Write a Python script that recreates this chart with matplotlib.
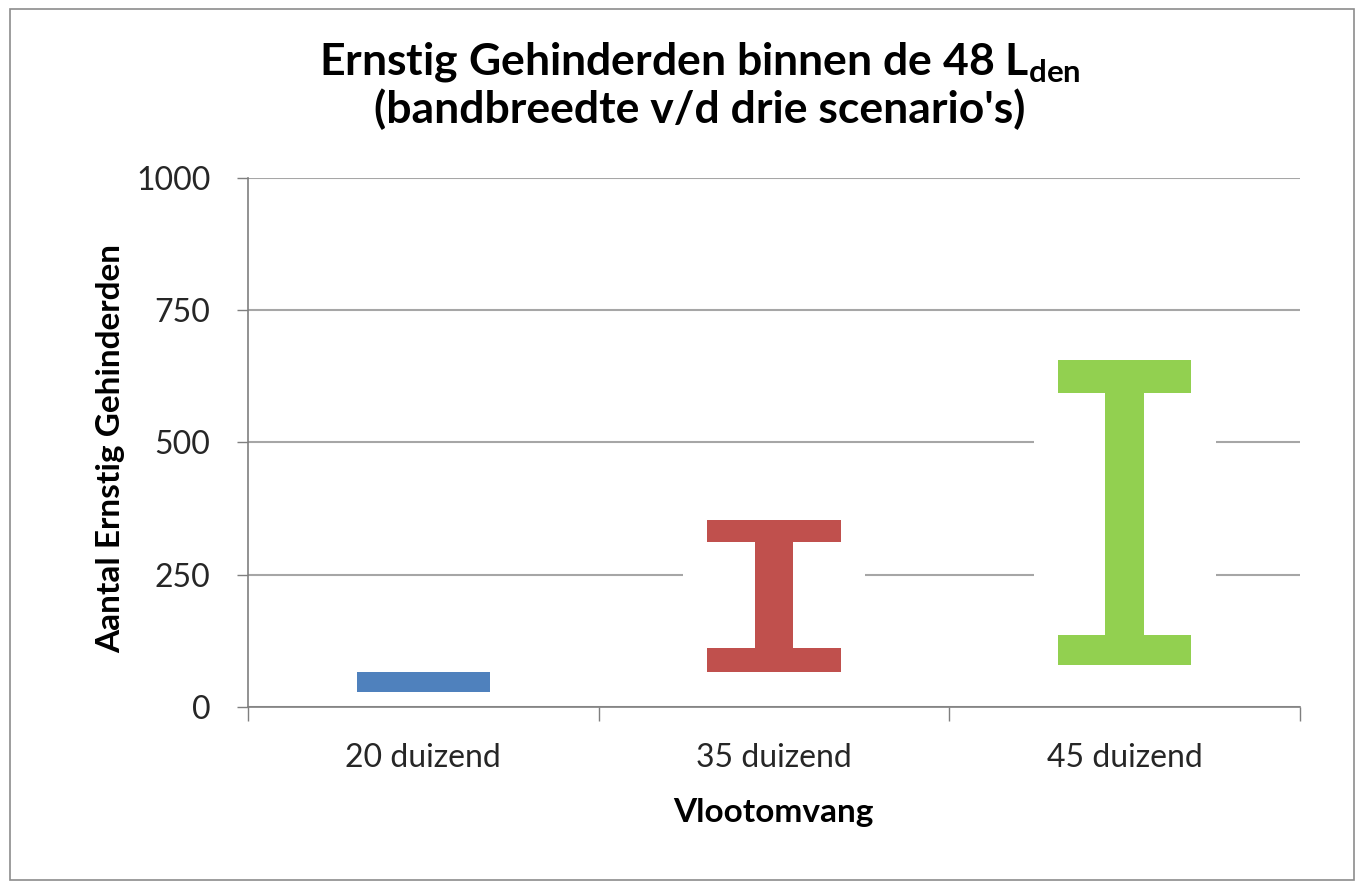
import matplotlib.pyplot as plt
from matplotlib.patches import Rectangle

plt.rcParams['font.family'] = ['Lato', 'DejaVu Sans']
plt.rcParams['mathtext.fontset'] = 'custom'
plt.rcParams['mathtext.bf'] = 'Lato:bold'
plt.rcParams['mathtext.rm'] = 'Lato'

# Vlootomvang en bandbreedte (onder- en bovenkant van de "I")
categorieen = ['20 duizend', '35 duizend', '45 duizend']
onder_laag = [28, 66, 79]      # onderkant onderste balk
onder_hoog = [66, 111, 136]    # bovenkant onderste balk
boven_laag = [66, 312, 594]    # onderkant bovenste balk
boven_hoog = [66, 353, 656]    # bovenkant bovenste balk
kleuren = ['#4F81BD', '#C0504D', '#92D050']

fig = plt.figure(figsize=(13.64, 8.89), dpi=100)
ax = fig.add_axes([0.1818, 0.2047, 0.7713, 0.5951])

x = list(range(len(categorieen)))
cap_w = 0.38
stem_w = 0.11
wit_w = 0.52

for i in x:
    # witte achtergrond die de rasterlijnen onderbreekt
    if boven_hoog[i] > onder_hoog[i]:
        ax.bar(i, boven_hoog[i] - onder_laag[i] + 20, bottom=onder_laag[i] - 10,
               width=wit_w, color='white', zorder=2)
        ax.bar(i, boven_laag[i] - onder_hoog[i], bottom=onder_hoog[i],
               width=stem_w, color=kleuren[i], zorder=3)
        ax.bar(i, boven_hoog[i] - boven_laag[i], bottom=boven_laag[i],
               width=cap_w, color=kleuren[i], zorder=3)
    ax.bar(i, onder_hoog[i] - onder_laag[i], bottom=onder_laag[i],
           width=cap_w, color=kleuren[i], zorder=3)

ax.set_xlim(-0.5, len(categorieen) - 0.5)
ax.set_ylim(0, 1000)
ax.set_yticks([0, 250, 500, 750, 1000])
ax.set_xticks(x)
ax.set_xticklabels(categorieen)
ax.set_xticks([-0.5, 0.5, 1.5, 2.5], minor=True)
ax.tick_params(axis='x', which='major', length=0, pad=26, labelsize=23, labelcolor='#262626')
ax.tick_params(axis='x', which='minor', length=10, width=1, color='#7f7f7f')
ax.tick_params(axis='y', length=8, width=1, color='#7f7f7f', pad=19, labelsize=23,
               labelcolor='#262626')

ax.yaxis.grid(True, color='#a6a6a6', linewidth=1.5, zorder=0)
ax.set_axisbelow(True)
for s in ['top', 'right']:
    ax.spines[s].set_visible(False)
ax.spines['left'].set_color('#7f7f7f')
ax.spines['bottom'].set_color('#7f7f7f')
ax.spines['left'].set_linewidth(1.2)
ax.spines['bottom'].set_linewidth(1.2)

fig.text(0.513, 0.930, 'Ernstig Gehinderden binnen de 48 L$_{\\mathbf{den}}$',
         ha='center', va='center', fontsize=32, fontweight='bold')
fig.text(0.513, 0.877, "(bandbreedte v/d drie scenario's)",
         ha='center', va='center', fontsize=32, fontweight='bold')
fig.text(0.081, 0.495, 'Aantal Ernstig Gehinderden', rotation=90,
         ha='center', va='center', fontsize=24, fontweight='bold')
fig.text(0.567, 0.0855, 'Vlootomvang', ha='center', va='center',
         fontsize=24, fontweight='bold')

fig.patches.append(Rectangle((0.007, 0.01), 0.986, 0.98, transform=fig.transFigure,
                             fill=False, edgecolor='#8c8c8c', linewidth=1.2))

fig.savefig('out.png', dpi=100)
